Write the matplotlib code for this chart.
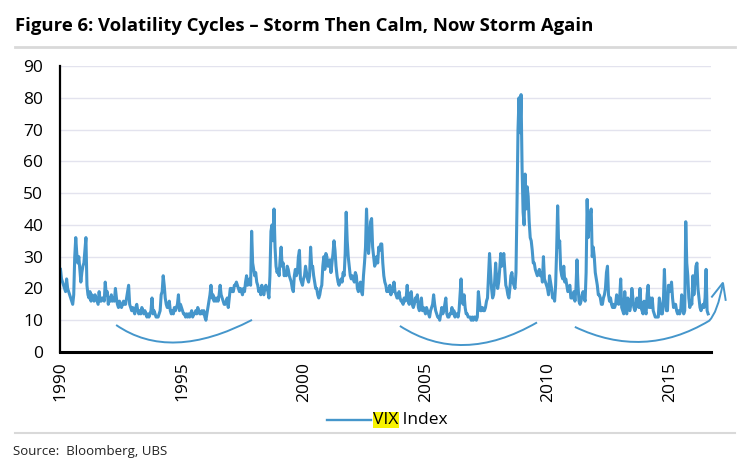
import matplotlib.pyplot as plt
import numpy as np
from matplotlib.path import Path
from matplotlib.patches import PathPatch
from matplotlib.lines import Line2D

plt.rcParams['font.family'] = ['Open Sans', 'DejaVu Sans']

# VIX index, two readings per month
vix_1990 = [26, 23, 22, 21, 20, 19, 23, 20, 19, 18, 17, 16, 15, 18, 30, 36, 31, 28, 30, 26, 22, 25, 27, 28]
vix_1991 = [32, 36, 21, 18, 17, 19, 16, 18, 17, 16, 18, 17, 16, 15, 19, 16, 16, 17, 17, 16, 22, 18, 19, 15]
vix_1992 = [17, 16, 18, 16, 17, 16, 20, 17, 15, 14, 16, 15, 14, 15, 16, 15, 15, 17, 19, 21, 15, 14, 13, 14]
vix_1993 = [13, 12, 14, 15, 13, 12, 13, 12, 14, 13, 12, 13, 12, 11, 12, 11, 12, 13, 17, 12, 13, 12, 11, 11]
vix_1994 = [11, 12, 13, 18, 19, 24, 21, 17, 15, 14, 14, 16, 13, 12, 13, 12, 14, 13, 14, 15, 18, 13, 15, 14]
vix_1995 = [13, 12, 12, 11, 12, 11, 12, 11, 12, 13, 11, 12, 12, 13, 12, 14, 13, 12, 12, 13, 12, 13, 11, 10]
vix_1996 = [12, 14, 16, 18, 21, 17, 18, 16, 17, 16, 17, 16, 18, 21, 18, 17, 16, 15, 15, 16, 17, 14, 17, 20]
vix_1997 = [20, 19, 19, 21, 21, 22, 21, 20, 19, 20, 19, 18, 20, 19, 22, 24, 21, 22, 23, 21, 38, 28, 26, 24]
vix_1998 = [25, 22, 21, 19, 20, 18, 21, 19, 18, 20, 21, 20, 19, 17, 24, 38, 40, 35, 45, 33, 27, 25, 26, 24]
vix_1999 = [29, 33, 27, 28, 24, 25, 24, 27, 26, 24, 23, 22, 20, 19, 24, 26, 24, 25, 30, 32, 23, 22, 21, 23]
vix_2000 = [24, 27, 25, 23, 22, 24, 33, 27, 27, 24, 22, 20, 20, 18, 17, 18, 20, 21, 27, 30, 26, 31, 30, 27]
vix_2001 = [27, 29, 25, 28, 31, 35, 32, 27, 24, 22, 21, 22, 23, 22, 25, 24, 31, 44, 35, 30, 27, 24, 23, 24]
vix_2002 = [23, 22, 25, 24, 20, 19, 21, 22, 19, 18, 24, 28, 33, 45, 36, 31, 36, 41, 42, 33, 30, 27, 28, 30]
vix_2003 = [28, 33, 32, 34, 34, 28, 24, 22, 21, 19, 20, 19, 21, 18, 20, 19, 22, 19, 18, 17, 17, 19, 17, 16]
vix_2004 = [16, 15, 17, 16, 17, 21, 16, 15, 18, 19, 15, 14, 15, 17, 16, 18, 14, 13, 15, 17, 13, 14, 13, 12]
vix_2005 = [14, 13, 12, 11, 13, 14, 15, 18, 15, 13, 12, 11, 11, 10, 12, 14, 12, 13, 15, 17, 12, 11, 11, 12]
vix_2006 = [12, 14, 12, 13, 11, 12, 12, 11, 13, 18, 23, 16, 15, 18, 14, 12, 12, 11, 11, 11, 10, 11, 10, 11]
vix_2007 = [11, 10, 11, 19, 16, 13, 13, 14, 13, 13, 14, 16, 17, 24, 31, 25, 20, 17, 18, 22, 28, 23, 20, 22]
vix_2008 = [26, 31, 27, 28, 31, 26, 21, 20, 18, 17, 20, 24, 25, 22, 21, 20, 25, 46, 70, 80, 69, 81, 58, 44]
vix_2009 = [40, 56, 45, 52, 49, 41, 36, 35, 32, 28, 28, 26, 25, 24, 25, 26, 24, 25, 22, 30, 23, 22, 21, 20]
vix_2010 = [18, 24, 22, 20, 17, 18, 16, 21, 32, 46, 33, 35, 26, 24, 23, 27, 22, 23, 21, 19, 20, 21, 17, 17]
vix_2011 = [17, 19, 16, 20, 29, 21, 16, 15, 16, 18, 19, 17, 16, 25, 48, 36, 41, 43, 45, 30, 33, 30, 25, 23]
vix_2012 = [21, 18, 18, 17, 15, 15, 17, 18, 20, 25, 27, 18, 16, 17, 15, 14, 15, 14, 15, 18, 16, 15, 17, 23]
vix_2013 = [14, 13, 12, 19, 13, 12, 17, 14, 13, 15, 20, 17, 14, 13, 14, 17, 15, 14, 20, 14, 13, 12, 16, 13]
vix_2014 = [12, 18, 21, 14, 17, 14, 17, 13, 12, 11, 11, 11, 11, 17, 15, 12, 12, 16, 26, 16, 13, 13, 21, 19]
vix_2015 = [20, 22, 17, 14, 15, 15, 13, 12, 13, 12, 13, 18, 14, 12, 13, 41, 28, 24, 17, 14, 16, 15, 24, 18]
vix_2016 = [22, 27, 28, 20, 17, 14, 13, 14, 15, 14, 17, 26, 13, 12]

years = list(range(1990, 2017))
yearly = [vix_1990, vix_1991, vix_1992, vix_1993, vix_1994, vix_1995, vix_1996,
          vix_1997, vix_1998, vix_1999, vix_2000, vix_2001, vix_2002, vix_2003,
          vix_2004, vix_2005, vix_2006, vix_2007, vix_2008, vix_2009, vix_2010,
          vix_2011, vix_2012, vix_2013, vix_2014, vix_2015, vix_2016]

# hand-drawn "cycle" arcs: start, lowest point, end (year, level)
arc_1 = [(1992.3, 8.5), (1994.8, 3.0), (1997.87, 10.1)]
arc_2 = [(2003.93, 8.2), (2006.6, 2.2), (2009.55, 9.3)]
arc_3 = [(2011.1, 7.9), (2013.89, 3.2), (2016.6, 9.8)]
arrow_tip = (2017.17, 21.8)
arrow_arms = [(2016.72, 17.4), (2017.28, 16.4)]

x = []
y = []
for yr, vals in zip(years, yearly):
    for i, v in enumerate(vals):
        x.append(yr + (i + 0.5) / 24)
        y.append(v)

blue = '#4596cb'

fig = plt.figure(figsize=(7.44, 4.67), dpi=100)
ax = fig.add_axes([60/744, 1 - 352/467, 650.5/744, 286/467])

ax.plot(x, y, color=blue, lw=2.2, solid_joinstyle='round')

ax.set_xlim(1990, 2016.66)
ax.set_ylim(0, 90)
ax.set_yticks(range(0, 91, 10))
ax.set_xticks(range(1990, 2016, 5))
ax.set_xticklabels([str(v) for v in range(1990, 2016, 5)], rotation=90)
ax.tick_params(axis='y', length=0, pad=12, labelsize=12.5)
ax.tick_params(axis='x', length=0, pad=7, labelsize=12.5)
ax.yaxis.grid(True, color='#e3e3ee', lw=1)
ax.set_axisbelow(True)
for s in ['top', 'right']:
    ax.spines[s].set_visible(False)
ax.spines['left'].set_linewidth(1.6)
ax.spines['bottom'].set_linewidth(2.2)


def smile(pts):
    (x0, y0), (xm, ym), (x2, y2) = pts
    cx = (4 * xm - x0 - x2) / 2
    cy = (4 * ym - y0 - y2) / 2
    return [(x0, y0), (cx, cy), (x2, y2)]


for pts in [arc_1, arc_2]:
    p = Path(smile(pts), [Path.MOVETO, Path.CURVE3, Path.CURVE3])
    ax.add_patch(PathPatch(p, fc='none', ec=blue, lw=1.4, clip_on=False))

v = smile(arc_3)
xe, ye = arc_3[2]
v += [(xe + 0.35, ye + 2.5), arrow_tip]
p = Path(v, [Path.MOVETO, Path.CURVE3, Path.CURVE3, Path.CURVE3, Path.CURVE3])
ax.add_patch(PathPatch(p, fc='none', ec=blue, lw=1.4, clip_on=False))
ax.plot([arrow_arms[0][0], arrow_tip[0], arrow_arms[1][0]],
        [arrow_arms[0][1], arrow_tip[1], arrow_arms[1][1]],
        color=blue, lw=1.4, clip_on=False, solid_joinstyle='miter')

# title and rules
fig.text(15/744, 1 - 31/467, 'Figure 6: Volatility Cycles \u2013 Storm Then Calm, Now Storm Again',
         fontsize=13.3, fontweight='bold', va='baseline', ha='left')
fig.add_artist(Line2D([15/744, 735/744], [1 - 47/467] * 2, color='#d9d9d9', lw=2))
fig.add_artist(Line2D([15/744, 735/744], [1 - 433/467] * 2, color='#d9d9d9', lw=1.5))
fig.text(13/744, 1 - 455/467, 'Source:  Bloomberg, UBS', fontsize=9.5, va='baseline', color='#222222')

# legend
fig.add_artist(Line2D([327/744, 371/744], [1 - 420/467] * 2, color=blue, lw=1.7))
t = fig.text(373/744, 1 - 420/467, 'VIX', fontsize=12.5, va='center', ha='left',
             bbox=dict(facecolor='#f7f200', edgecolor='none', pad=0.3))
ax.annotate(' Index', xy=(1, 0.5), xycoords=t, va='center', ha='left', fontsize=12.5)

fig.savefig('out.png', dpi=100)
